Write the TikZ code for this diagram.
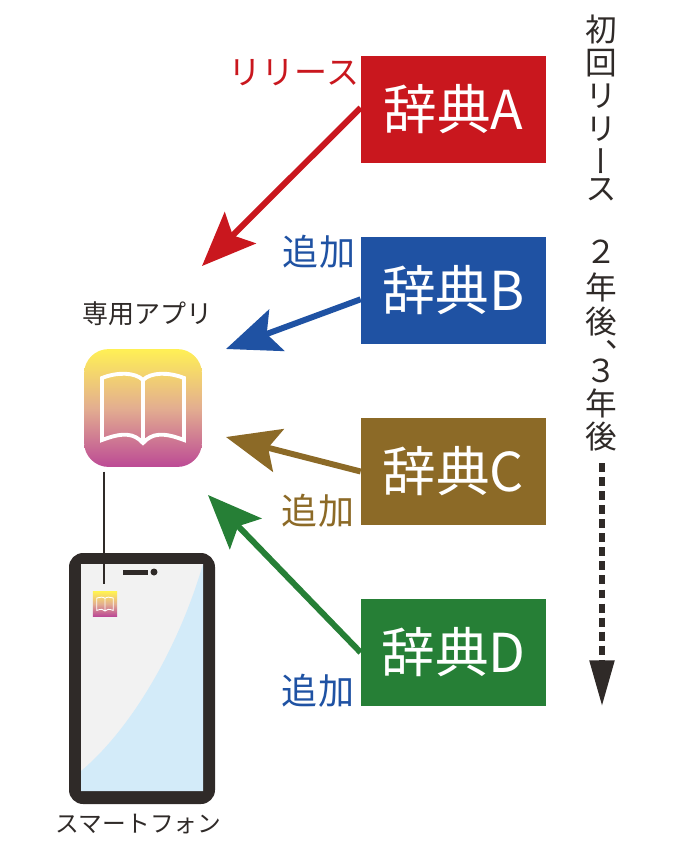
\documentclass[tikz,border=0pt]{standalone}
\usepackage{fontspec}
\setmainfont{Noto Sans CJK JP}
\newfontfamily\vertfont[RawFeature=+vert]{Noto Sans CJK JP}
\usetikzlibrary{arrows.meta}
\definecolor{inkcol}{HTML}{2F2A28}
\definecolor{redcol}{HTML}{C9171E}
\definecolor{bluecol}{HTML}{1F52A3}
\definecolor{browncol}{HTML}{8C6A27}
\definecolor{greencol}{HTML}{267F36}
\definecolor{screencol}{HTML}{F2F2F2}
\definecolor{glasscol}{HTML}{D3EBF9}
\definecolor{icontop}{HTML}{FFF055}
\definecolor{iconmid}{HTML}{E3AE90}
\definecolor{iconbot}{HTML}{BC4A95}
\tikzset{
	dictbox/.style={minimum width=105.3pt, minimum height=60.9pt, inner sep=0pt, text=white, font=\fontsize{30.5}{32}\selectfont},
	lab/.style={inner sep=0pt, font=\fontsize{#1}{#1}\selectfont},
	timechar/.style={inner sep=0pt, text=inkcol, font=\fontsize{18}{18}\selectfont\vertfont},
	bigarrow/.style={line width=3.4pt, -{Stealth[length=30.7pt,width=25pt,inset=6pt]}},
	icongrad/.style={top color=icontop, bottom color=iconbot, middle color=iconmid},
	pics/bookicon/.style={code={
		\draw[white, line join=miter, line width=#1] (-41,-30) .. controls (-26,-36) and (-8,-36) .. (0,-28) .. controls (8,-36) and (26,-36) .. (41,-30) -- (41,32) .. controls (20,24) and (9,25) .. (0,35) .. controls (-9,25) and (-20,24) .. (-41,32) -- cycle (0,-28) -- (0,35);
	}}
}
\begin{document}
\begin{tikzpicture}[x=0.02cm, y=-0.02cm, line join=round]
	\useasboundingbox (0,0) rectangle (674,859);
	% dictionaries
	\node[dictbox, fill=redcol] (dicta) at (453.5,109.5) {辞典A};
	\node[dictbox, fill=bluecol] (dictb) at (453.5,290.5) {辞典B};
	\node[dictbox, fill=browncol] (dictc) at (453.5,471.5) {辞典C};
	\node[dictbox, fill=greencol] (dictd) at (453.5,652.5) {辞典D};
	\coordinate (tipa) at (202,266);
	\coordinate (tipb) at (226,349);
	\coordinate (tipc) at (226,437);
	\coordinate (tipd) at (208,495);
	\draw[bigarrow, redcol] ([yshift=1pt]dicta.west) -- (tipa);
	\draw[bigarrow, bluecol] ([yshift=-5pt]dictb.west) -- (tipb);
	\draw[bigarrow, browncol] (dictc.west) -- (tipc);
	\draw[bigarrow, greencol] (dictd.west) -- (tipd);
	\node[lab=18.8, text=redcol] (labrel) at (294,73) {リリース};
	\node[lab=20.5, text=bluecol] (labb) at (319,252) {追加};
	\node[lab=20.5, text=browncol] (labc) at (318,511) {追加};
	\node[lab=20.5, text=bluecol] (labd) at (318,691) {追加};
	% app
	\node[lab=14.8, text=inkcol] (applab) at (147.5,314) {専用アプリ};
	\node[icongrad, rounded corners=14pt, minimum size=67.1pt, inner sep=0pt] (appicon) at (143,408) {};
	\pic at (appicon.center) {bookicon=2.2pt};
	% phone
	\draw[fill=inkcol, draw=none, rounded corners=8pt] (69,553) rectangle (215,804);
	\fill[screencol] (81,564) rectangle (203,791);
	\fill[glasscol] (203,564) .. controls (178,650) and (130,730) .. (81,771) -- (81,791) -- (203,791) -- cycle;
	\fill[inkcol] (123,569.5) rectangle (148,574.5);
	\fill[inkcol] (154,572) circle (3.5);
	\node[icongrad, minimum size=13.7pt, inner sep=0pt] (smallicon) at (105,604) {};
	\pic[scale=0.2] at (smallicon.center) {bookicon=0.5pt};
	\draw[inkcol, line width=0.6pt, shorten <=2.4pt, shorten >=4.6pt] (appicon.south -| 104,0) -- (104,592);
	\node[lab=13.5, text=inkcol] (phonelab) at (138.5,824) {スマートフォン};
	% time line
	\foreach \ch/\yy [count=\i] in {初/29,回/63,リ/96,リ/129,ー/161,ス/190,２/252,年/287,後/322,３/371,年/403,後/437}
		\node[timechar] (time\i) at (601,\yy) {\ch};
	\node[lab=18, text=inkcol] (timecomma) at (621,345) {、};
	\coordinate (timetop) at (602,463);
	\coordinate (timeend) at (602,706);
	\draw[inkcol, line width=3pt, dash pattern=on 5.1pt off 2.9pt, -{Triangle[length=26pt,width=13.7pt]}] (timetop) -- (timeend);
\end{tikzpicture}
\end{document}
